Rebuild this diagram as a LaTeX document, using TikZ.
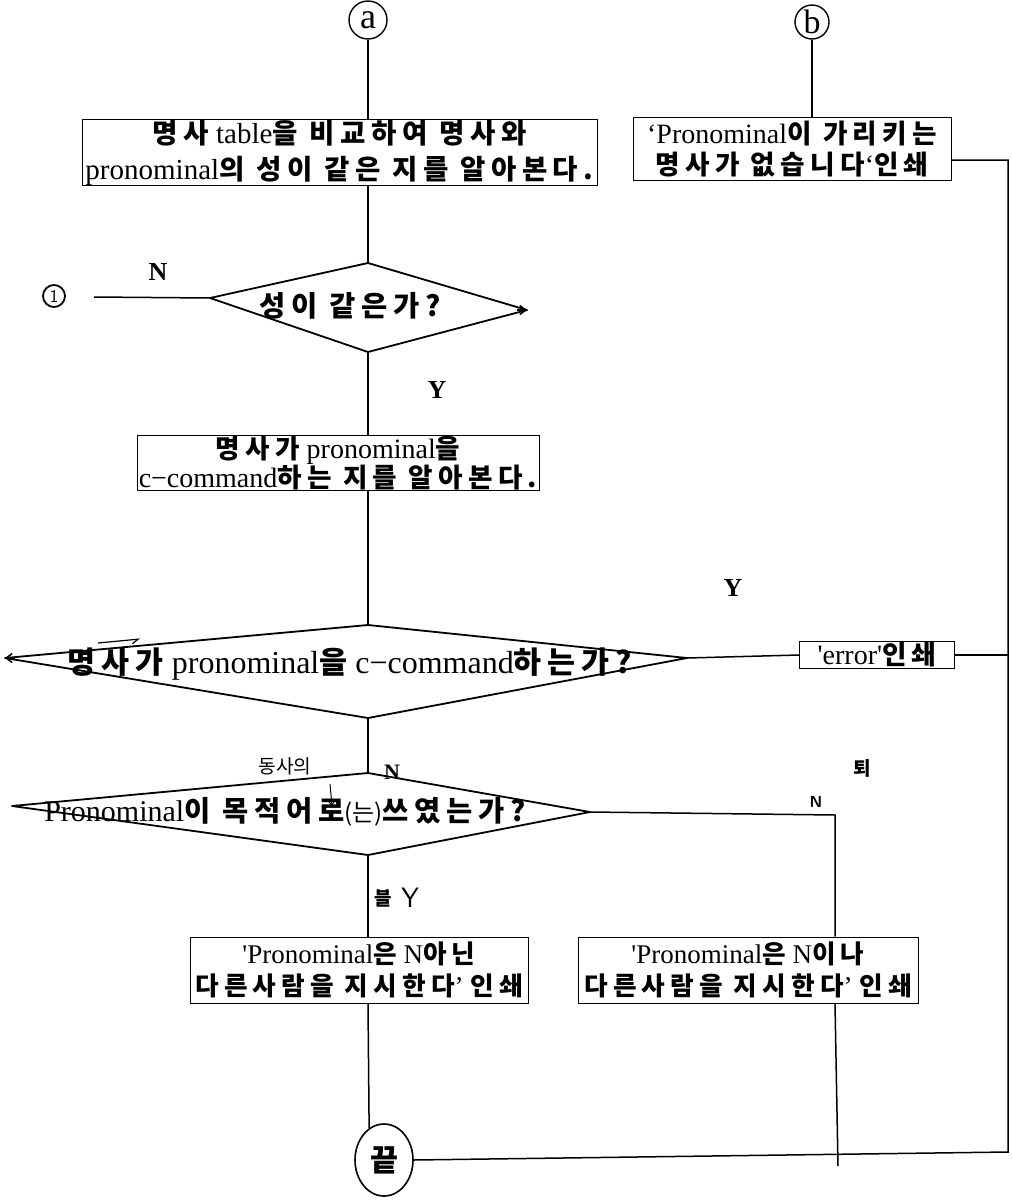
\documentclass[tikz,border=0pt]{standalone}
\usepackage{fontspec}
\setmainfont{Liberation Serif}
\newfontfamily\kr[Scale=0.95,LetterSpace=20]{Noto Sans CJK KR}
\newfontfamily\krhand[Scale=0.8]{Noto Sans CJK KR}
\usetikzlibrary{arrows.meta,shapes.geometric}
\newcommand\K[1]{{\kr\bfseries #1}}
\begin{document}
\begin{tikzpicture}[x=1pt,y=-1pt,
  every node/.style={font=\fontsize{28}{34}\selectfont},
  box/.style={draw, line width=0.9pt, inner sep=0pt, align=center},
  conn/.style={line width=1.5pt},
  dia/.style={line width=1.8pt, line join=round},
  lab/.style={font=\fontsize{26}{26}\selectfont\bfseries},
  circ/.style={draw, circle, line width=1.4pt, inner sep=0pt},
  tipstyle/.style={line width=1.5pt, -{Straight Barb[length=6pt,width=9pt]}}]
\useasboundingbox (0,0) rectangle (1012,1200);

% connector circles
\node[circ, minimum size=38pt, font=\fontsize{36}{36}\selectfont] (ca) at (368,20) {a};
\node[circ, minimum size=34pt, font=\fontsize{34}{34}\selectfont] (cb) at (812,22) {b};
\node[circ, minimum size=22pt, line width=1.8pt, font=\sffamily\fontsize{18}{18}\selectfont] (c1) at (54,296) {1};

% boxes
\node[box, minimum width=515pt, minimum height=65pt, font=\fontsize{29}{36}\selectfont] (b1) at (339.5,152.5)
  {\K{명사} table\K{을 비교하여 명사와}\\pronominal\K{의 성이 같은 지를 알아본다.}};
\node[box, minimum width=318pt, minimum height=63pt, font=\fontsize{28}{31}\selectfont] (bb) at (792,149)
  {`Pronominal\K{이 가리키는}\\\K{명사가 없습니다}`\K{인쇄}};
\node[box, minimum width=402pt, minimum height=54pt, font=\fontsize{28}{27}\selectfont] (b2) at (338,463)
  {\K{명사가} pronominal\K{을}\\c−command\K{하는 지를 알아본다.}};
\node[box, minimum width=155pt, minimum height=25pt, inner sep=1pt] (err) at (877,655)
  {\textquotesingle error\textquotesingle\K{인쇄}};
\node[box, minimum width=338pt, minimum height=66pt, font=\fontsize{27}{32}\selectfont] (b3) at (359,970)
  {\textquotesingle Pronominal\K{은} N\K{아닌}\\\K{다른사람을 지시한다}’ \K{인쇄}};
\node[box, minimum width=340pt, minimum height=66pt, font=\fontsize{27}{32}\selectfont] (b4) at (748,970)
  {\textquotesingle Pronominal\K{은} N\K{이나}\\\K{다른사람을 지시한다}’ \K{인쇄}};

% end terminal
\node[draw, ellipse, line width=1.6pt, minimum width=58pt, minimum height=72pt, inner sep=0pt, font=\fontsize{32}{32}\selectfont] (end) at (384,1160) {\K{끝}};

% diamonds
\coordinate (d1t) at (368,263); \coordinate (d1l) at (210,298);
\coordinate (d1r) at (527,310); \coordinate (d1b) at (368,352);
\draw[dia] (d1t) -- (d1r) -- (d1b) -- (d1l) -- cycle;
\node[font=\fontsize{30}{30}\selectfont] (d1) at (350,306) {\K{성이 같은가?}};

\coordinate (d2t) at (368,625); \coordinate (d2l) at (5,658);
\coordinate (d2r) at (687,658); \coordinate (d2b) at (368,718);
\draw[dia] (d2t) -- (d2r) -- (d2b) -- (d2l) -- cycle;
\node[font=\fontsize{32}{32}\selectfont] (d2) at (350,664) {\K{명사가} pronominal\K{을} c−command\K{하는가?}};

\coordinate (d3t) at (368,773); \coordinate (d3l) at (12,806);
\coordinate (d3r) at (590,812); \coordinate (d3b) at (368,855);
\draw[dia] (d3t) -- (d3r) -- (d3b) -- (d3l) -- cycle;
\node[font=\fontsize{30}{30}\selectfont] (d3) at (285,812) {Pronominal\K{이}\hspace{12pt}\K{목적어로}{\krhand(는)}\K{쓰였는가?}};
\node[font=\krhand\fontsize{24}{24}\selectfont] (ins) at (285,766) {동사의};
\coordinate (insa) at (330,784); \coordinate (insb) at (332,806);
\draw[line width=1pt, -{Straight Barb[length=4pt,width=6pt]}] (insa) -- (insb);

% arrow tips on diamond vertices
\draw[tipstyle] (d1r) ++(-10,0) -- (d1r);
\draw[tipstyle] (d2l) ++(10,0) -- (d2l);
\coordinate (hpa) at (98,643); \coordinate (hpb) at (140,639);
\draw[line width=1.2pt, -{Straight Barb[harpoon,swap,length=6pt,width=8pt]}] (hpa) -- (hpb);

% right trunk
\coordinate (rt) at (1008,160);
\coordinate (rb) at (1008,1152);
\coordinate (l1) at (94,297);
\coordinate (c4) at (835,815);
\coordinate (c5) at (838,1166);

% connectors
\draw[conn] (ca.south) -- (ca.south |- b1.north);
\draw[conn] (cb.south) -- (cb.south |- bb.north);
\draw[conn] (b1.south -| d1t) -- (d1t);
\draw[conn] (l1) -- (d1l);
\draw[conn] (d1b) -- (d1b |- b2.north);
\draw[conn] (b2.south -| d2t) -- (d2t);
\draw[conn] (d2r) -- (err.west);
\draw[conn] (err.east) -- (err.east -| rt);
\draw[conn] (bb.east |- rt) -- (rt) -- (rb) -- (end.east);
\draw[conn] (d2b) -- (d3t);
\draw[conn] (d3b) -- (d3b |- b3.north);
\draw[conn] (d3r) -- (c4) -- (c4 |- b4.north);
\draw[conn] (b3.south -| d3b) -- (end.115);
\draw[conn] (b4.south -| c4) -- (c5);

% labels
\node[lab] (n1) at (158,272) {N};
\node[lab] (y1) at (437,390) {Y};
\node[lab] (y2) at (733,588) {Y};
\node[lab, font=\fontsize{22}{22}\selectfont\bfseries] (n2) at (392,772) {N};
\node[font=\sffamily\bfseries\fontsize{16}{16}\selectfont] (n3) at (816,802) {N};
\node[font=\sffamily\fontsize{28}{28}\selectfont] (y3) at (410,898) {Y};
\node[font=\kr\bfseries\fontsize{20}{20}\selectfont] (blob1) at (862,768) {퇴};
\node[font=\kr\bfseries\fontsize{20}{20}\selectfont] (blob2) at (383,898) {블};
\end{tikzpicture}
\end{document}
